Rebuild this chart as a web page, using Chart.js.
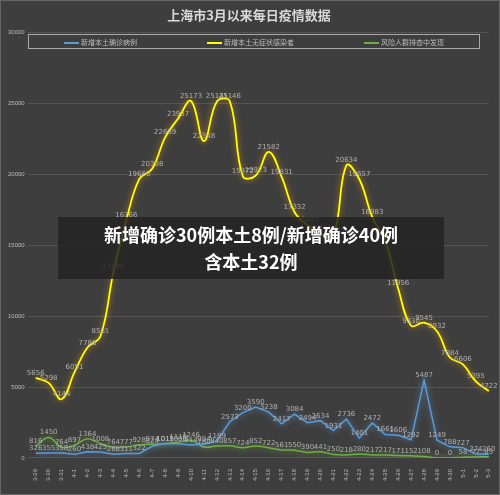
<!DOCTYPE html>
<html lang="en">
<head>
<meta charset="UTF-8" />
<title>上海市3月以来每日疫情数据</title>
<script src="https://cdn.jsdelivr.net/npm/chart.js"></script>
<style>
  body { margin: 0; background: #3e3e3e; font-family: "Noto Sans CJK SC", sans-serif; }
  .wrap { position: relative; width: 500px; height: 495px; box-sizing: border-box; border: 1px solid #666; }
  .legend {
    position: absolute; left: 27px; top: 33px; width: 450px; height: 13px;
    border: 1px solid #aaa; display: flex; justify-content: space-around; align-items: center;
    font-size: 7px; color: #bbb;
  }
  .legend span i { display: inline-block; width: 15px; height: 2px; vertical-align: middle; margin-right: 2px; }
  .note {
    position: absolute; left: 57px; top: 216px; width: 386px; height: 62px;
    background: rgba(35,35,35,0.85); color: #fff; font-weight: bold; font-size: 18px;
    text-align: center; line-height: 27px; padding-top: 4px; box-sizing: border-box;
  }
</style>
</head>
<body>
<div class="wrap">
  <canvas id="chart" width="498" height="493"></canvas>
  <div class="legend">
    <span><i style="background:#5b9bd5"></i>新增本土确诊病例</span>
    <span><i style="background:#ffff00"></i>新增本土无症状感染者</span>
    <span><i style="background:#70ad47"></i>风险人群排查中发现</span>
  </div>
  <div class="note">新增确诊30例本土8例/新增确诊40例<br>含本土32例</div>
</div>
<script>
const dates = ['3-29','3-30','3-31','4-1','4-2','4-3','4-4','4-5','4-6','4-7','4-8','4-9','4-10','4-11','4-12','4-13','4-14','4-15','4-16','4-17','4-18','4-19','4-20','4-21','4-22','4-23','4-24','4-25','4-26','4-27','4-28','4-29','4-30','5-1','5-2','5-3'];
const confirmed = [326,355,358,260,438,425,268,311,322,824,1015,1006,914,994,1189,2573,3200,3590,3238,2417,3084,2494,2634,1931,2736,1401,2472,1661,1606,1292,5487,1249,788,727,274,260];
const asymptomatic = [5656,5298,4144,6051,7788,8581,13086,16766,19660,20398,22609,23937,25173,22348,25141,25146,19872,19923,21582,19831,17332,16407,15861,15698,20634,19657,16983,15319,11956,9330,9545,8932,7084,6606,5395,4722];
const screening = [816,1450,764,897,1364,1008,764,777,928,974,1012,1110,1246,780,840,857,724,852,722,561,550,390,441,250,218,280,217,217,171,152,108,0,0,58,77,85];
const yTicks = [0,5000,10000,15000,20000,25000,30000];

const glow = {
  id: 'glow',
  beforeDatasetDraw(chart, args) {
    const ctx = chart.ctx;
    ctx.save();
    ctx.shadowColor = args.index === 1 ? 'rgba(255,170,0,0.8)' : (args.index === 0 ? 'rgba(120,180,255,0.7)' : 'rgba(140,220,80,0.7)');
    ctx.shadowBlur = 6;
  },
  afterDatasetDraw(chart) { chart.ctx.restore(); }
};
const labels = {
  id: 'labels',
  afterDatasetsDraw(chart) {
    const ctx = chart.ctx;
    ctx.save();
    ctx.font = '7px "DejaVu Sans"';
    ctx.fillStyle = '#b0b0b0';
    ctx.textAlign = 'center';
    chart.data.datasets.forEach((ds, i) => {
      chart.getDatasetMeta(i).data.forEach((pt, j) => {
        ctx.fillText(ds.data[j], pt.x, pt.y - 3);
      });
    });
    ctx.restore();
  }
};

new Chart(document.getElementById('chart'), {
  type: 'line',
  data: {
    labels: dates,
    datasets: [
      { label: '新增本土确诊病例', data: confirmed, borderColor: '#5b9bd5', borderWidth: 1.5, pointRadius: 0, tension: 0 },
      { label: '新增本土无症状感染者', data: asymptomatic, borderColor: '#ffff00', borderWidth: 1.8, pointRadius: 0, tension: 0.4 },
      { label: '风险人群排查中发现', data: screening, borderColor: '#70ad47', borderWidth: 1.5, pointRadius: 0, tension: 0.4 }
    ]
  },
  options: {
    responsive: false,
    animation: false,
    layout: { padding: { top: 0, right: 6, left: 4, bottom: 10 } },
    plugins: {
      legend: { display: false },
      tooltip: { enabled: false },
      title: { display: true, text: '上海市3月以来每日疫情数据', color: '#d8d8d8', font: { size: 13, weight: 'bold', family: '"Noto Sans CJK SC"' }, padding: { top: 6, bottom: 10 } }
    },
    scales: {
      x: {
        grid: { display: false },
        border: { display: false },
        ticks: { color: '#bbb', font: { size: 6 }, maxRotation: 90, minRotation: 90, autoSkip: false }
      },
      y: {
        min: 0, max: 30000,
        afterBuildTicks: a => { a.ticks = yTicks.map(v => ({ value: v })); },
        grid: { color: '#555' },
        border: { display: false },
        ticks: { color: '#bbb', font: { size: 6 }, callback: v => String(v) }
      }
    }
  },
  plugins: [glow, labels]
});
</script>
</body>
</html>
